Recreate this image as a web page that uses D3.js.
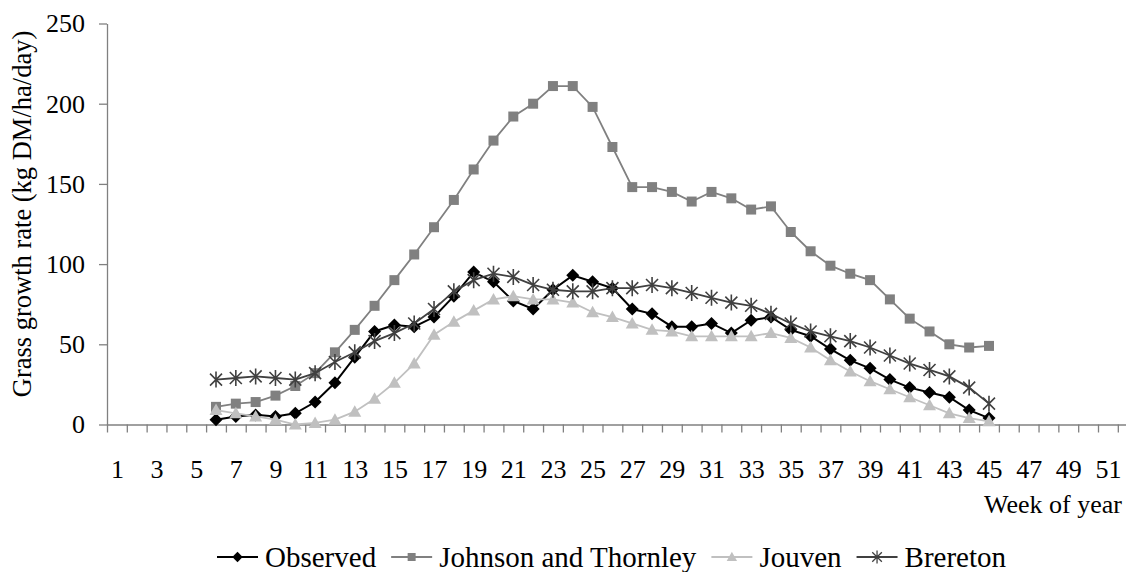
<!DOCTYPE html>
<html>
<head>
<meta charset="utf-8">
<script src="https://cdn.jsdelivr.net/npm/d3@7"></script>
<style>
  body { margin: 0; background: #fff; }
  svg { display: block; font-family: "Liberation Serif", "Times New Roman", serif; }
  .axis path, .axis line { stroke: #808080; stroke-width: 1.3; }
  .axis text { fill: #000; font-size: 26px; font-family: "Liberation Serif", "Times New Roman", serif; }
</style>
</head>
<body>
<div id="chart"></div>
<script>

// data, weeks 6 to 45
const weeks = d3.range(6, 46)

const observed = [3, 5, 6, 5, 7, 14, 26, 42, 58, 62, 61, 67, 80, 95, 89, 77, 72, 84, 93, 89,
  85, 72, 69, 61, 61, 63, 57, 65, 67, 59, 55, 47, 40, 35, 28, 23, 20, 17, 9, 4]
const johnsonThornley = [11, 13, 14, 18, 24, 32, 45, 59, 74, 90, 106, 123, 140, 159, 177, 192, 200, 211, 211, 198,
  173, 148, 148, 145, 139, 145, 141, 134, 136, 120, 108, 99, 94, 90, 78, 66, 58, 50, 48, 49]
const jouven = [9, 7, 5, 3, 0, 1, 3, 8, 16, 26, 38, 56, 64, 71, 78, 80, 78, 78, 76, 70,
  67, 63, 59, 58, 55, 55, 55, 55, 57, 54, 48, 40, 33, 27, 22, 17, 12, 7, 4, 2]
const brereton = [28, 29, 30, 29, 28, 32, 39, 45, 52, 57, 63, 72, 83, 90, 94, 92, 87, 84, 83, 83,
  85, 85, 87, 85, 82, 79, 76, 74, 69, 63, 58, 55, 52, 48, 43, 38, 34, 30, 23, 13]

const seriesNames = ["Observed", "Johnson and Thornley", "Jouven", "Brereton"]
const seriesValues = [observed, johnsonThornley, jouven, brereton]
const seriesColors = ["#000000", "#808080", "#c0c0c0", "#404040"]
const seriesMarkers = ["diamond", "square", "triangle", "star"]

const yTicks = [0, 50, 100, 150, 200, 250]
const xLabelWeeks = d3.range(1, 52, 2)


// dimensions
const dimensions = {
  width: 1126,
  height: 572,
  left: 107,
  top: 23.5,
  zeroY: 424.5,
  step: 19.82,
}

const wrapper = d3.select("#chart")
  .append("svg")
    .attr("width", dimensions.width)
    .attr("height", dimensions.height)


// scales
const xScale = d3.scaleLinear()
  .domain([0.5, 52.5])
  .range([dimensions.left, dimensions.left + 52 * dimensions.step])

const yScale = d3.scaleLinear()
  .domain([0, 250])
  .range([dimensions.zeroY, dimensions.top])


// axes
const yAxis = wrapper.append("g")
  .attr("class", "axis")
  .attr("transform", `translate(${dimensions.left},0)`)
  .call(d3.axisLeft(yScale).tickValues(yTicks).tickSize(8).tickPadding(14).tickSizeOuter(0))

const xTickAxis = wrapper.append("g")
  .attr("class", "axis")
  .attr("transform", `translate(0,${dimensions.zeroY})`)
  .call(d3.axisBottom(xScale).tickValues(d3.range(0.5, 53, 1)).tickSize(8).tickSizeOuter(0).tickFormat(""))

const xLabelAxis = wrapper.append("g")
  .attr("class", "axis")
  .attr("transform", `translate(0,${dimensions.zeroY})`)
  .call(d3.axisBottom(xScale).tickValues(xLabelWeeks).tickSize(0).tickFormat(d3.format("d")))
xLabelAxis.select(".domain").remove()
xLabelAxis.selectAll("text")
  .attr("y", 53.5)
  .attr("dy", 0)

wrapper.append("text")
  .attr("x", 1122)
  .attr("y", 513)
  .attr("text-anchor", "end")
  .style("font-size", "26px")
  .text("Week of year")

wrapper.append("text")
  .attr("transform", "translate(31,214) rotate(-90)")
  .attr("text-anchor", "middle")
  .style("font-size", "26.5px")
  .text("Grass growth rate (kg DM/ha/day)")


// markers
const markerPath = {
  diamond: "M0,-6.5L6.5,0L0,6.5L-6.5,0Z",
  square: "M-5,-5H5V5H-5Z",
  triangle: "M0,-6.5L6.5,5L-6.5,5Z",
  star: "M-6,-6L6,6M-6,6L6,-6M0,-8V8",
}

const drawMarker = (g, type, color) => {
  const p = g.append("path").attr("d", markerPath[type])
  if (type == "star") {
    p.attr("fill", "none").attr("stroke", color).attr("stroke-width", 1.6)
  } else {
    p.attr("fill", color).attr("stroke", "none")
  }
}


// draw data
const line = d3.line()
  .x((d, i) => xScale(weeks[i]))
  .y(d => yScale(d))

seriesValues.forEach((values, s) => {
  const g = wrapper.append("g")

  g.append("path")
    .datum(values)
    .attr("fill", "none")
    .attr("stroke", seriesColors[s])
    .attr("stroke-width", s == 0 ? 2 : 1.8)
    .attr("d", line)

  g.selectAll(".marker")
    .data(values)
    .enter()
    .append("g")
      .attr("class", "marker")
      .attr("transform", (d, i) => `translate(${xScale(weeks[i])},${yScale(d)})`)
      .each(function() { drawMarker(d3.select(this), seriesMarkers[s], seriesColors[s]) })
})


// legend
const legend = wrapper.append("g")
let lx = 217
const ly = 557

seriesNames.forEach((name, s) => {
  const item = legend.append("g").attr("transform", `translate(${lx},${ly})`)
  item.append("line")
    .attr("x1", 0).attr("x2", 41)
    .attr("stroke", seriesColors[s])
    .attr("stroke-width", 2)
  const m = item.append("g").attr("transform", "translate(20.5,0) scale(0.8)")
  drawMarker(m, seriesMarkers[s], seriesColors[s])
  const t = item.append("text")
    .attr("x", 48)
    .attr("y", 9.5)
    .style("font-size", "29px")
    .text(name)
  lx += 48 + t.node().getComputedTextLength() + 15
})

</script>
</body>
</html>
